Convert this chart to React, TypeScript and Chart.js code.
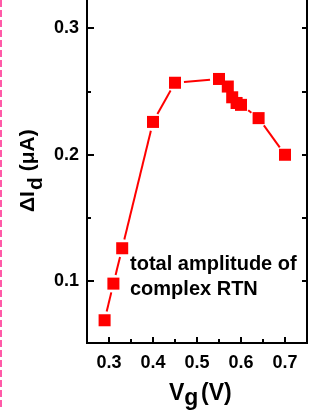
import React, { useEffect, useRef } from 'react';
import { Chart, registerables } from 'chart.js';

Chart.register(...registerables);

// ---- data ----
const vg = [0.29, 0.31, 0.33, 0.40, 0.45, 0.55, 0.57, 0.58, 0.59, 0.60, 0.64, 0.70];
const deltaId = [0.069, 0.098, 0.126, 0.226, 0.257, 0.260, 0.254, 0.2455, 0.241, 0.2395, 0.229, 0.200];
const xTicks = [0.3, 0.35, 0.4, 0.45, 0.5, 0.55, 0.6, 0.65, 0.7];
const yTicks = [0.1, 0.15, 0.2, 0.25, 0.3];
const xLabels = ['0.3', '0.4', '0.5', '0.6', '0.7'];
const yLabels = ['0.1', '0.2', '0.3'];
const noteLines = ['total amplitude of', 'complex RTN'];
const xTitleParts = ['V', 'g', '(V)'];
const yTitleParts = ['ΔI', 'd', '(μA)'];

const FONT = '"Liberation Sans", Arial, Helvetica, sans-serif';
const RED = '#ff0000';

const isMajor = (v: number) => Math.abs(v * 10 - Math.round(v * 10)) < 1e-6;

const decor = {
  id: 'decor',
  beforeDatasetsDraw(chart: any) {
    const ctx = chart.ctx;
    const pts = chart.getDatasetMeta(0).data;
    const gap = 9;
    ctx.save();
    ctx.strokeStyle = RED;
    ctx.lineWidth = 2;
    for (let i = 0; i < pts.length - 1; i++) {
      const a = pts[i];
      const b = pts[i + 1];
      const dx = b.x - a.x;
      const dy = b.y - a.y;
      const d = Math.hypot(dx, dy);
      if (d <= 2 * gap + 1) continue;
      const ux = dx / d;
      const uy = dy / d;
      ctx.beginPath();
      ctx.moveTo(a.x + ux * gap, a.y + uy * gap);
      ctx.lineTo(b.x - ux * gap, b.y - uy * gap);
      ctx.stroke();
    }
    ctx.restore();
  },
  afterDraw(chart: any) {
    const ctx = chart.ctx;
    const { left, right, top, bottom } = chart.chartArea;
    const xs = chart.scales.x;
    const ys = chart.scales.y;
    ctx.save();
    // right frame line
    ctx.strokeStyle = '#000';
    ctx.lineWidth = 2;
    ctx.beginPath();
    ctx.moveTo(Math.round(right), top);
    ctx.lineTo(Math.round(right), bottom + 1);
    ctx.stroke();
    // ticks (inward)
    ctx.lineWidth = 2;
    xTicks.forEach((v) => {
      const px = Math.round(xs.getPixelForValue(v));
      const len = isMajor(v) ? 6 : 4;
      ctx.beginPath();
      ctx.moveTo(px, bottom);
      ctx.lineTo(px, bottom - len);
      ctx.stroke();
    });
    yTicks.forEach((v) => {
      const py = Math.round(ys.getPixelForValue(v));
      const len = isMajor(v) ? 7 : 4;
      ctx.beginPath();
      ctx.moveTo(left, py);
      ctx.lineTo(left + len, py);
      ctx.stroke();
      ctx.beginPath();
      ctx.moveTo(Math.round(right), py);
      ctx.lineTo(Math.round(right) - 5, py);
      ctx.stroke();
    });
    // annotation
    ctx.fillStyle = '#000';
    ctx.textAlign = 'left';
    ctx.textBaseline = 'alphabetic';
    ctx.font = `bold 20px ${FONT}`;
    ctx.fillText(noteLines[0], 130, 270);
    ctx.fillText(noteLines[1], 130, 295);
    // x title
    ctx.font = `bold 23px ${FONT}`;
    const xb = 400;
    let xx = 169;
    ctx.fillText(xTitleParts[0], xx, xb);
    xx += ctx.measureText(xTitleParts[0]).width;
    ctx.fillText(xTitleParts[1], xx, xb + 5);
    ctx.fillText(xTitleParts[2], 201, xb);
    // y title (rotated)
    ctx.translate(34, 212);
    ctx.rotate(-Math.PI / 2);
    ctx.font = `bold 21px ${FONT}`;
    let lx = 0;
    ctx.fillText(yTitleParts[0], lx, 0);
    lx += ctx.measureText(yTitleParts[0]).width + 1;
    ctx.fillText(yTitleParts[1], lx, 8);
    lx += ctx.measureText(yTitleParts[1]).width + 6;
    ctx.fillText(yTitleParts[2], lx, 0);
    ctx.setTransform(1, 0, 0, 1, 0, 0);
    // pink dashed edge
    ctx.strokeStyle = '#ff5aa8';
    ctx.lineWidth = 2;
    ctx.setLineDash([7, 3]);
    ctx.beginPath();
    ctx.moveTo(1, 0);
    ctx.lineTo(1, 407);
    ctx.stroke();
    ctx.restore();
  },
};

export default function App() {
  const ref = useRef<HTMLCanvasElement | null>(null);
  useEffect(() => {
    if (!ref.current) return;
    const chart = new Chart(ref.current, {
      type: 'line',
      data: {
        datasets: [
          {
            data: vg.map((x, i) => ({ x, y: deltaId[i] })),
            showLine: false,
            pointStyle: 'rect',
            pointRadius: 8.5,
            pointHoverRadius: 8.5,
            pointBorderWidth: 0,
            pointBackgroundColor: RED,
            pointBorderColor: RED,
            borderColor: RED,
            backgroundColor: RED,
          },
        ],
      },
      options: {
        responsive: false,
        animation: false,
        devicePixelRatio: 1,
        events: [],
        layout: { autoPadding: false, padding: { left: 0, right: 24, top: 0, bottom: 0 } },
        plugins: {
          legend: { display: false },
          tooltip: { enabled: false },
          title: { display: false },
        },
        scales: {
          x: {
            type: 'linear',
            position: 'bottom',
            min: 0.25,
            max: 0.75,
            afterBuildTicks: (s: any) => {
              s.ticks = xTicks.map((v) => ({ value: v }));
            },
            afterFit: (s: any) => {
              s.height = 72;
              s.paddingLeft = 0;
              s.paddingRight = 0;
              s.paddingTop = 0;
              s.paddingBottom = 0;
            },
            grid: { display: true, drawOnChartArea: false, drawTicks: false },
            border: { display: true, width: 2, color: '#000' },
            ticks: {
              autoSkip: false,
              maxRotation: 0,
              padding: 9,
              color: '#000',
              font: { family: FONT, size: 18, weight: 'bold' },
              callback: (v: any) => {
                const lab = Number(v).toFixed(1);
                return isMajor(Number(v)) && xLabels.includes(lab) ? lab : '';
              },
            },
          },
          y: {
            type: 'linear',
            position: 'left',
            min: 0.051,
            max: 0.3225,
            afterBuildTicks: (s: any) => {
              s.ticks = yTicks.map((v) => ({ value: v }));
            },
            afterFit: (s: any) => {
              s.width = 87;
              s.paddingLeft = 0;
              s.paddingRight = 0;
              s.paddingTop = 0;
              s.paddingBottom = 0;
            },
            grid: { display: true, drawOnChartArea: false, drawTicks: false },
            border: { display: true, width: 2, color: '#000' },
            ticks: {
              autoSkip: false,
              padding: 8,
              color: '#000',
              font: { family: FONT, size: 18, weight: 'bold' },
              callback: (v: any) => {
                const lab = Number(v).toFixed(1);
                return isMajor(Number(v)) && yLabels.includes(lab) ? lab : '';
              },
            },
          },
        },
      },
      plugins: [decor],
    } as any);
    return () => chart.destroy();
  }, []);
  return (
    <div style={{ position: 'fixed', left: 0, top: 0, width: 331, height: 415, background: '#fff' }}>
      <canvas ref={ref} width={331} height={415} style={{ display: 'block' }} />
    </div>
  );
}
